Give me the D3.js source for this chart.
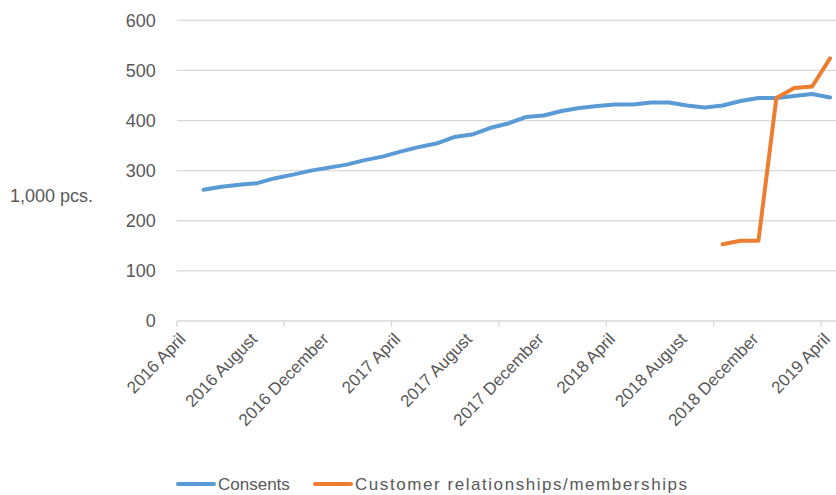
<!DOCTYPE html>
<html>
<head>
<meta charset="utf-8">
<script src="https://cdn.jsdelivr.net/npm/d3@7"></script>
<style>
  body { margin: 0; background: #fff; }
  svg { display: block; font-family: "Liberation Sans", Arial, sans-serif; }
  .axis text { fill: #595959; }
</style>
</head>
<body>
<div id="chart"></div>
<script>
// monthly categories, April 2016 - April 2019
const monthNames = ["January","February","March","April","May","June","July","August","September","October","November","December"];
const months = [];
for (let yr = 2016, m = 3; yr < 2019 || m <= 3; ) {
  months.push(yr + " " + monthNames[m]);
  m++; if (m > 11) { m = 0; yr++; }
}

// values in 1,000 pcs.
const consents = [null,
  262, 268, 272, 275, 285, 292, 300, 306, 312, 321, 328, 338,
  347, 354, 367, 372, 385, 394, 407, 410, 419, 425, 429, 432,
  432, 436, 436, 430, 426, 430, 439, 445, 445, 449, 453, 446];
const customers = [null, null, null, null, null, null, null, null, null, null, null, null,
  null, null, null, null, null, null, null, null, null, null, null, null,
  null, null, null, null, null, null,
  153, 160, 160, 445, 465, 468, 524];

const yTicks = [0, 100, 200, 300, 400, 500, 600];
const seriesNames = ["Consents", "Customer relationships/memberships"];
const colors = ["#5B9BD5", "#ED7D31"];

const W = 836, H = 495;
const plotLeft = 176.7, plotRight = 839, plotTop = 20.3, plotBottom = 321;

const svg = d3.select("#chart").append("svg")
  .attr("width", W)
  .attr("height", H);

const x = d3.scaleBand().domain(months).range([plotLeft, plotRight]).padding(0);
const y = d3.scaleLinear().domain([0, 600]).range([plotBottom, plotTop]);

// gridlines
svg.append("g")
  .selectAll("line")
  .data(yTicks.slice(1))
  .join("line")
  .attr("x1", plotLeft).attr("x2", plotRight)
  .attr("y1", d => y(d)).attr("y2", d => y(d))
  .attr("stroke", "#D9D9D9")
  .attr("stroke-width", 1.3);

// y axis labels
const yAxis = svg.append("g")
  .attr("class", "axis")
  .attr("transform", "translate(" + (plotLeft - 21) + ",0)")
  .call(d3.axisLeft(y).tickValues(yTicks).tickSize(0).tickPadding(0));
yAxis.select(".domain").remove();
yAxis.selectAll("text").attr("font-size", 18).attr("font-family", "Liberation Sans, Arial, sans-serif");

svg.append("text")
  .attr("x", 10).attr("y", 202)
  .attr("fill", "#595959")
  .attr("font-size", 18)
  .text("1,000 pcs.");

// x axis line + tick marks (every 6 months, between categories)
svg.append("line")
  .attr("x1", plotLeft).attr("x2", plotRight)
  .attr("y1", plotBottom).attr("y2", plotBottom)
  .attr("stroke", "#D9D9D9")
  .attr("stroke-width", 1.3);

svg.append("g")
  .selectAll("line")
  .data(months.filter((d, i) => i % 6 === 0))
  .join("line")
  .attr("x1", d => x(d)).attr("x2", d => x(d))
  .attr("y1", plotBottom).attr("y2", plotBottom + 6)
  .attr("stroke", "#D9D9D9")
  .attr("stroke-width", 1.3);

// x labels every 4 months, rotated
const xAxis = svg.append("g")
  .attr("class", "axis")
  .attr("transform", "translate(0," + plotBottom + ")")
  .call(d3.axisBottom(x).tickValues(months.filter((d, i) => i % 4 === 0)).tickSize(0).tickPadding(0));
xAxis.select(".domain").remove();
xAxis.selectAll("text")
  .attr("font-size", 17)
  .attr("font-family", "Liberation Sans, Arial, sans-serif")
  .attr("text-anchor", "end")
  .attr("dy", "0")
  .attr("transform", "translate(1,19) rotate(-46)");

// lines
const line = d3.line()
  .defined(d => d != null)
  .x((d, i) => x(months[i]) + x.bandwidth() / 2)
  .y(d => y(d));

[consents, customers].forEach((s, k) => {
  svg.append("path")
    .attr("fill", "none")
    .attr("stroke", colors[k])
    .attr("stroke-width", 4)
    .attr("stroke-linejoin", "round")
    .attr("stroke-linecap", "round")
    .attr("d", line(s));
});

// legend
const legendX = [176, 313];
const legend = svg.append("g");
seriesNames.forEach((name, k) => {
  legend.append("line")
    .attr("x1", legendX[k] + 2).attr("x2", legendX[k] + 38)
    .attr("y1", 484).attr("y2", 484)
    .attr("stroke", colors[k])
    .attr("stroke-width", 4)
    .attr("stroke-linecap", "round");
  const t = legend.append("text")
    .attr("x", legendX[k] + 42).attr("y", 490)
    .attr("fill", "#595959")
    .attr("font-size", 17)
    .text(name);
  if (k === 1) t.attr("textLength", 332).attr("lengthAdjust", "spacing");
});
</script>
</body>
</html>
